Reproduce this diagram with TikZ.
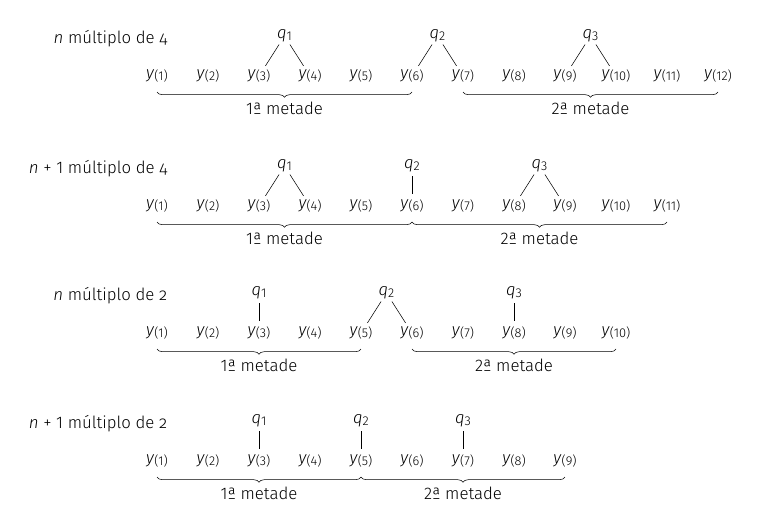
\documentclass[tikz,border=0pt]{standalone}
\usepackage{fontspec}
\setmainfont{Fira Sans}[UprightFont=* Light, ItalicFont=* Light Italic]
\usetikzlibrary{calc, decorations.pathreplacing}
\newcommand{\yy}[1]{\textit{y}\raisebox{-1.2pt}{\fontsize{9.6}{10}\selectfont(#1)}}
\newcommand{\qq}[1]{\textit{q}\raisebox{-1.2pt}{\fontsize{9.6}{10}\selectfont#1}}
\newcommand{\onum}[1]{{\addfontfeatures{Numbers=OldStyle}#1}}
\tikzset{
  ord/.style={inner sep=1pt},
  leg/.style={shorten <=7.5pt, shorten >=9pt},
  metade/.style={decorate, decoration={brace, mirror, amplitude=4pt}},
}

\begin{document}
\begin{tikzpicture}[x=0.75pt, y=-0.75pt, font=\fontsize{12.6}{15}\selectfont]
\useasboundingbox (0,0) rectangle (764,525);

% n multiplo de 4
\node[anchor=east] (ta) at (172,39) {\textit{n} múltiplo de \onum{4}};
\foreach \k in {1,...,12}
  \node[ord] (a\k) at ({157+51*(\k-1)},76) {\yy{\k}};
\node (qa1) at ($(a3)!.5!(a4)+(0,-40)$) {\qq1};
\node (qa2) at ($(a6)!.5!(a7)+(0,-40)$) {\qq2};
\node (qa3) at ($(a9)!.5!(a10)+(0,-40)$) {\qq3};
\path[leg]
(qa1.center) edge (a3.center) edge (a4.center)
(qa2.center) edge (a6.center) edge (a7.center)
(qa3.center) edge (a9.center) edge (a10.center);
\draw[metade] ($(a1)+(0,16)$) -- ($(a6)+(0,16)$) node[midway, below=4pt] (ma1) {1ª metade};
\draw[metade] ($(a7)+(0,16)$) -- ($(a12)+(0,16)$) node[midway, below=4pt] (ma2) {2ª metade};

% n+1 multiplo de 4
\node[anchor=east] (tb) at (172,169) {\textit{n} + 1 múltiplo de \onum{4}};
\foreach \k in {1,...,11}
  \node[ord] (b\k) at ({157+51*(\k-1)},206) {\yy{\k}};
\node (qb1) at ($(b3)!.5!(b4)+(0,-40)$) {\qq1};
\node (qb2) at ($(b6)+(0,-40)$) {\qq2};
\node (qb3) at ($(b8)!.5!(b9)+(0,-40)$) {\qq3};
\path[leg]
(qb1.center) edge (b3.center) edge (b4.center)
(qb2.center) edge (b6.center)
(qb3.center) edge (b8.center) edge (b9.center);
\draw[metade] ($(b1)+(0,16)$) -- ($(b6)+(0,16)$) node[midway, below=4pt] (mb1) {1ª metade};
\draw[metade] ($(b6)+(0,16)$) -- ($(b11)+(0,16)$) node[midway, below=4pt] (mb2) {2ª metade};

% n multiplo de 2
\node[anchor=east] (tc) at (172,296) {\textit{n} múltiplo de \onum{2}};
\foreach \k in {1,...,10}
  \node[ord] (c\k) at ({157+51*(\k-1)},333) {\yy{\k}};
\node (qc1) at ($(c3)+(0,-40)$) {\qq1};
\node (qc2) at ($(c5)!.5!(c6)+(0,-40)$) {\qq2};
\node (qc3) at ($(c8)+(0,-40)$) {\qq3};
\path[leg]
(qc1.center) edge (c3.center)
(qc2.center) edge (c5.center) edge (c6.center)
(qc3.center) edge (c8.center);
\draw[metade] ($(c1)+(0,16)$) -- ($(c5)+(0,16)$) node[midway, below=4pt] (mc1) {1ª metade};
\draw[metade] ($(c6)+(0,16)$) -- ($(c10)+(0,16)$) node[midway, below=4pt] (mc2) {2ª metade};

% n+1 multiplo de 2
\node[anchor=east] (td) at (172,424) {\textit{n} + 1 múltiplo de \onum{2}};
\foreach \k in {1,...,9}
  \node[ord] (d\k) at ({157+51*(\k-1)},461) {\yy{\k}};
\node (qd1) at ($(d3)+(0,-40)$) {\qq1};
\node (qd2) at ($(d5)+(0,-40)$) {\qq2};
\node (qd3) at ($(d7)+(0,-40)$) {\qq3};
\path[leg]
(qd1.center) edge (d3.center)
(qd2.center) edge (d5.center)
(qd3.center) edge (d7.center);
\draw[metade] ($(d1)+(0,16)$) -- ($(d5)+(0,16)$) node[midway, below=4pt] (md1) {1ª metade};
\draw[metade] ($(d5)+(0,16)$) -- ($(d9)+(0,16)$) node[midway, below=4pt] (md2) {2ª metade};
\end{tikzpicture}
\end{document}
